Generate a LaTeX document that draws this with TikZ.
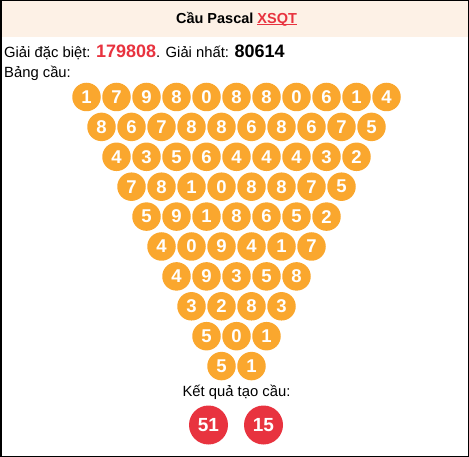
\documentclass[tikz,border=0pt]{standalone}
\usepackage{fontspec}
\setmainfont{Liberation Sans}
\definecolor{ballorange}{HTML}{FAA72E}
\definecolor{ballred}{HTML}{E8333F}
\definecolor{headbg}{HTML}{FDF1E6}
\begin{document}
\begin{tikzpicture}[x=1pt,y=-1pt,
  ball/.style={circle,fill=ballorange,minimum size=28.5pt,inner sep=0pt,text=white,font=\bfseries\fontsize{18.5}{18.5}\selectfont},
  resball/.style={circle,fill=ballred,minimum size=39pt,inner sep=0pt,text=white,font=\bfseries\fontsize{19}{19}\selectfont},
  txt/.style={inner sep=0pt,font=\fontsize{14.8}{16}\selectfont}]
\useasboundingbox (0,0) rectangle (469,457);
\fill[headbg] (0,0) rectangle (469,37);
\node[txt,anchor=base,font=\bfseries\fontsize{14.5}{15}\selectfont] (title) at (236.5,23.5) {Cầu Pascal {\color{ballred}\setbox0\hbox{XSQT}\rlap{\rule[-1.6pt]{\wd0}{1pt}}\box0}};
\node[txt,anchor=base west] (prize) at (4,58) {Giải đặc biệt: {\color{ballred}\bfseries\fontsize{18}{18}\selectfont 179808}. Giải nhất: {\bfseries\fontsize{18}{18}\selectfont 80614}};
\node[txt,anchor=base west] (bang) at (4,78) {Bảng cầu:};
\foreach \row [count=\i] in {{1,7,9,8,0,8,8,0,6,1,4},{8,6,7,8,8,6,8,6,7,5},{4,3,5,6,4,4,4,3,2},{7,8,1,0,8,8,7,5},{5,9,1,8,6,5,2},{4,0,9,4,1,7},{4,9,3,5,8},{3,2,8,3},{5,0,1},{5,1}}{
  \foreach \d [count=\j] in \row {
    \node[ball] (b\i-\j) at ({236.5+(\j-(13-\i)/2)*30},{97+(\i-1)*29.9}) {\d};
  }
}
\node[txt,anchor=base] (ket) at (236.5,396) {Kết quả tạo cầu:};
\node[resball] (r1) at (208.5,425) {51};
\node[resball] (r2) at (263.5,425) {15};
\draw[line width=1.5pt] (0.75,0.75) rectangle (468.25,456.25);
\end{tikzpicture}
\end{document}
